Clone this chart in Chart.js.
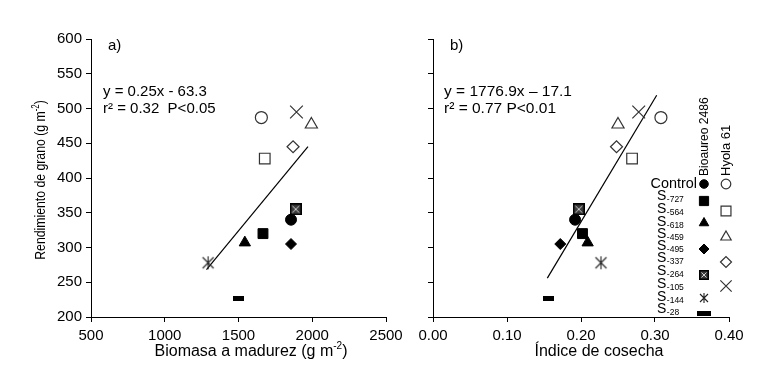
<!DOCTYPE html>
<html>
<head>
<meta charset="utf-8">
<script src="https://cdn.jsdelivr.net/npm/chart.js@4.4.1/dist/chart.umd.min.js"></script>
<style>
    body { margin: 0; background: #fff; }
    #wrap { position: relative; width: 784px; height: 392px; }
    #chartA { position: absolute; left: 0; top: 0; }
    #chartB { position: absolute; left: 410px; top: 0; }
</style>
</head>
<body>
<div id="wrap">
    <canvas id="chartA" width="420" height="392"></canvas>
    <canvas id="chartB" width="374" height="392"></canvas>
</div>
<script>
// Bioaureo 2486 (filled markers)
const bioTreatments = ['Control', 'S-727', 'S-618', 'S-495', 'S-264', 'S-144', 'S-28'];
const bioBiomass = [1856, 1666, 1543, 1856, 1888, 1294, 1502];
const bioHarvestIndex = [0.192, 0.202, 0.209, 0.172, 0.197, 0.227, 0.156];
const bioYield = [340, 320, 307, 305, 355, 278, 227];

// Hyola 61 (open markers)
const hyolaTreatments = ['Control', 'S-564', 'S-459', 'S-337', 'S-105'];
const hyolaBiomass = [1655, 1678, 1994, 1870, 1893];
const hyolaHarvestIndex = [0.308, 0.269, 0.250, 0.248, 0.278];
const hyolaYield = [487, 428, 477, 445, 495];

// regression lines (end points)
const fitA_x = [1283, 1971];
const fitA_y = [268, 445];
const fitB_x = [0.1545, 0.3023];
const fitB_y = [256, 519];

const yTicks = [200, 250, 300, 350, 400, 450, 500, 550, 600];
const xTicksA = [500, 1000, 1500, 2000, 2500];
const xTicksB = [0, 0.1, 0.2, 0.3, 0.4];

const legendRows = ['Control', 'S-727', 'S-564', 'S-618', 'S-459', 'S-495', 'S-337', 'S-264', 'S-105', 'S-144', 'S-28'];

const SANS = "'Liberation Sans', Arial, sans-serif";

// custom marker images
function makeMarker(w, h, draw) {
    const c = document.createElement('canvas');
    c.width = w; c.height = h;
    draw(c.getContext('2d'), w, h);
    return c;
}
function crossedSquareOf(s) {
    return makeMarker(s, s, (ctx, w, h) => {
        ctx.fillStyle = '#3a3a3a';
        ctx.fillRect(0, 0, w, h);
        ctx.strokeStyle = '#000';
        ctx.lineWidth = 1.5;
        ctx.strokeRect(0.75, 0.75, w - 1.5, h - 1.5);
        ctx.strokeStyle = '#ccc';
        ctx.lineWidth = 1;
        ctx.beginPath();
        ctx.moveTo(2.5, 2.5); ctx.lineTo(w - 2.5, h - 2.5);
        ctx.moveTo(w - 2.5, 2.5); ctx.lineTo(2.5, h - 2.5);
        ctx.stroke();
    });
}
function asteriskOf(s) {
    return makeMarker(s, s, (ctx, w, h) => {
        ctx.strokeStyle = '#222';
        ctx.lineWidth = 1.1;
        ctx.beginPath();
        ctx.moveTo(w / 2, 1); ctx.lineTo(w / 2, h - 1);
        ctx.moveTo(2, 2); ctx.lineTo(w - 2, h - 2);
        ctx.moveTo(w - 2, 2); ctx.lineTo(2, h - 2);
        ctx.stroke();
    });
}
function dashOf(w, h) {
    return makeMarker(w, h, (ctx) => {
        ctx.fillStyle = '#000';
        ctx.fillRect(0, 0, w, h);
    });
}

const bioStyles = [
    { pointStyle: 'circle', radius: 5.5 },
    { pointStyle: 'rect', radius: 7 },
    { pointStyle: 'triangle', radius: 6.5 },
    { pointStyle: 'rectRot', radius: 5.5 },
    { pointStyle: crossedSquareOf(12), radius: 6 },
    { pointStyle: asteriskOf(15), radius: 7 },
    { pointStyle: dashOf(11, 5), radius: 6 }
];
const bioLegendStyles = [
    { pointStyle: 'circle', radius: 4.3 },
    { pointStyle: 'rect', radius: 6.5 },
    { pointStyle: 'triangle', radius: 5.5 },
    { pointStyle: 'rectRot', radius: 5 },
    { pointStyle: crossedSquareOf(10), radius: 5 },
    { pointStyle: asteriskOf(12), radius: 6 },
    { pointStyle: dashOf(14, 5), radius: 6 }
];
const hyolaStyles = [
    { pointStyle: 'circle', radius: 6 },
    { pointStyle: 'rect', radius: 7.5 },
    { pointStyle: 'triangle', radius: 7 },
    { pointStyle: 'rectRot', radius: 6 },
    { pointStyle: 'crossRot', radius: 9 }
];
const hyolaLegendStyles = [
    { pointStyle: 'circle', radius: 4.8 },
    { pointStyle: 'rect', radius: 7 },
    { pointStyle: 'triangle', radius: 6 },
    { pointStyle: 'rectRot', radius: 5.5 },
    { pointStyle: 'crossRot', radius: 8 }
];

function buildDatasets(bioX, hyolaX, fitX, fitY) {
    const sets = [];
    bioTreatments.forEach((name, i) => {
        sets.push({
            label: 'Bioaureo 2486 ' + name,
            data: [{ x: bioX[i], y: bioYield[i] }],
            pointStyle: bioStyles[i].pointStyle,
            pointRadius: bioStyles[i].radius,
            backgroundColor: '#000',
            borderColor: '#000',
            borderWidth: 1
        });
    });
    hyolaTreatments.forEach((name, i) => {
        sets.push({
            label: 'Hyola 61 ' + name,
            data: [{ x: hyolaX[i], y: hyolaYield[i] }],
            pointStyle: hyolaStyles[i].pointStyle,
            pointRadius: hyolaStyles[i].radius,
            backgroundColor: '#fff',
            borderColor: '#333',
            borderWidth: 1.2
        });
    });
    sets.push({
        type: 'line',
        label: 'fit',
        data: fitX.map((x, i) => ({ x, y: fitY[i] })),
        borderColor: '#000',
        borderWidth: 1.2,
        pointRadius: 0,
        fill: false
    });
    return sets;
}

// text squeezed horizontally (the figure uses a narrow face)
function squeezeText(ctx, text, x, y, sx) {
    ctx.save();
    ctx.translate(x, y);
    ctx.scale(sx, 1);
    ctx.fillText(text, 0, 0);
    ctx.restore();
}

// draw "main" + superscript + "end" centred on cx
function drawWithSup(ctx, main, sup, end, cx, cy, size, sx) {
    ctx.font = size + 'px ' + SANS;
    const w1 = ctx.measureText(main).width * sx;
    const w3 = ctx.measureText(end).width * sx;
    ctx.font = Math.round(size * 0.62) + 'px ' + SANS;
    const w2 = sup ? ctx.measureText(sup).width * sx : 0;
    let x = cx - (w1 + w2 + w3) / 2;
    ctx.textAlign = 'left';
    ctx.font = size + 'px ' + SANS;
    squeezeText(ctx, main, x, cy, sx);
    x += w1;
    if (sup) {
        ctx.font = Math.round(size * 0.62) + 'px ' + SANS;
        squeezeText(ctx, sup, x, cy - size * 0.33, sx);
        x += w2;
        ctx.font = size + 'px ' + SANS;
        squeezeText(ctx, end, x, cy, sx);
    }
}

function drawLegend(chart, offsetX) {
    const ctx = chart.ctx;
    const rowY = [184, 197, 210, 223, 235, 247, 259, 272, 285, 298, 310];
    const markY = [184, 201, 211, 223, 237, 249, 262, 275, 286, 298, 313];
    const colFilled = 704 - offsetX;
    const colOpen = 726 - offsetX;
    ctx.textBaseline = 'middle';
    legendRows.forEach((name, i) => {
        const y = rowY[i];
        ctx.fillStyle = '#000';
        if (name === 'Control') {
            ctx.font = '15px ' + SANS;
            ctx.textAlign = 'right';
            squeezeText(ctx, name, 697 - offsetX, y, 0.96);
        } else {
            const sub = name.slice(1);
            const sx = 657 - offsetX;
            ctx.textAlign = 'left';
            ctx.font = '14px ' + SANS;
            ctx.fillText('S', sx, y - 1);
            const sw = ctx.measureText('S').width;
            ctx.font = '8.5px ' + SANS;
            ctx.fillText(sub, sx + sw + 0.5, y + 3);
        }
        const bi = bioTreatments.indexOf(name);
        if (bi >= 0) {
            ctx.save();
            ctx.fillStyle = '#000';
            ctx.strokeStyle = '#000';
            ctx.lineWidth = 1;
            Chart.helpers.drawPoint(ctx, {
                pointStyle: bioLegendStyles[bi].pointStyle,
                radius: bioLegendStyles[bi].radius,
                borderWidth: 1,
                rotation: 0
            }, colFilled, markY[i]);
            ctx.restore();
        }
        const hi = hyolaTreatments.indexOf(name);
        if (hi >= 0) {
            ctx.save();
            ctx.fillStyle = '#fff';
            ctx.strokeStyle = '#333';
            ctx.lineWidth = 1.2;
            Chart.helpers.drawPoint(ctx, {
                pointStyle: hyolaLegendStyles[hi].pointStyle,
                radius: hyolaLegendStyles[hi].radius,
                borderWidth: 1.2,
                rotation: 0
            }, colOpen, markY[i]);
            ctx.restore();
        }
    });
    // vertical series names
    ctx.fillStyle = '#000';
    ctx.font = '13px ' + SANS;
    ctx.textAlign = 'left';
    ctx.textBaseline = 'middle';
    [['Bioaureo 2486', colFilled, 0.93], ['Hyola 61', colOpen, 1]].forEach(([txt, cx, sx]) => {
        ctx.save();
        ctx.translate(cx, 176);
        ctx.rotate(-Math.PI / 2);
        ctx.scale(sx, 1);
        ctx.fillText(txt, 0, 0);
        ctx.restore();
    });
}

// draws free text: panel letter, equation, axis titles, legend
function textPlugin(opts) {
    return {
        id: 'panelText',
        afterDraw(chart) {
            const ctx = chart.ctx;
            ctx.save();
            ctx.fillStyle = '#000';
            ctx.textBaseline = 'middle';
            ctx.textAlign = 'left';
            ctx.font = '15px ' + SANS;
            ctx.fillText(opts.letter, opts.letterX, 46);
            ctx.font = opts.eqSize + 'px ' + SANS;
            ctx.fillText(opts.eq, opts.eqX, 91.5);
            ctx.fillText(opts.r2, opts.eqX, 109);
            drawWithSup(ctx, opts.xTitle, opts.xTitleSup, opts.xTitleEnd, opts.xTitleCx, 352, 16, 1);
            if (opts.yTitle) {
                ctx.save();
                ctx.translate(41, 180);
                ctx.rotate(-Math.PI / 2);
                drawWithSup(ctx, opts.yTitle, '-2', ')', 0, 0, 15.5, 0.79);
                ctx.restore();
            }
            if (opts.legend) drawLegend(chart, opts.offsetX);
            ctx.restore();
        }
    };
}

function axisStyle() {
    return {
        border: { color: '#000', width: 1 },
        grid: { display: true, drawOnChartArea: false, color: '#000', tickLength: 5 }
    };
}

function makeChart(id, cfg) {
    const x = axisStyle();
    const y = axisStyle();
    return new Chart(document.getElementById(id), {
        type: 'scatter',
        data: { datasets: buildDatasets(cfg.bioX, cfg.hyolaX, cfg.fitX, cfg.fitY) },
        options: {
            responsive: false,
            animation: false,
            layout: { padding: { top: 39, right: cfg.padRight, left: 0, bottom: 0 } },
            plugins: { legend: { display: false }, tooltip: { enabled: false } },
            scales: {
                x: Object.assign(x, {
                    type: 'linear',
                    min: cfg.xTicks[0],
                    max: cfg.xTicks[cfg.xTicks.length - 1],
                    afterBuildTicks: s => { s.ticks = cfg.xTicks.map(v => ({ value: v })); },
                    afterFit: s => { s.height = 75; },
                    ticks: {
                        color: '#000',
                        padding: 5,
                        maxRotation: 0,
                        font: { family: SANS, size: 15 },
                        callback: cfg.xFormat
                    }
                }),
                y: Object.assign(y, {
                    type: 'linear',
                    min: 200,
                    max: 600,
                    afterBuildTicks: s => { s.ticks = yTicks.map(v => ({ value: v })); },
                    afterFit: s => { s.width = cfg.yWidth; },
                    ticks: {
                        color: '#000',
                        padding: 4,
                        font: { family: SANS, size: 15 },
                        callback: cfg.yLabels ? (v => v) : (() => '')
                    }
                })
            }
        },
        plugins: [textPlugin(cfg.text)]
    });
}

makeChart('chartA', {
    bioX: bioBiomass, hyolaX: hyolaBiomass, fitX: fitA_x, fitY: fitA_y,
    xTicks: xTicksA, xFormat: v => v, yWidth: 91, padRight: 34, yLabels: true,
    text: {
        letter: 'a)', letterX: 108, eq: 'y = 0.25x - 63.3', eqX: 103, eqSize: 15,
        r2: 'r² = 0.32  P<0.05',
        xTitle: 'Biomasa a madurez (g m', xTitleSup: '-2', xTitleEnd: ')', xTitleCx: 251,
        yTitle: 'Rendimiento de grano (g m', legend: false, offsetX: 0
    }
});

makeChart('chartB', {
    bioX: bioHarvestIndex, hyolaX: hyolaHarvestIndex, fitX: fitB_x, fitY: fitB_y,
    xTicks: xTicksB, xFormat: v => Number(v).toFixed(2), yWidth: 23, padRight: 55, yLabels: false,
    text: {
        letter: 'b)', letterX: 450 - 410, eq: 'y = 1776.9x \u2013 17.1', eqX: 444 - 410, eqSize: 15.5,
        r2: 'r² = 0.77 P<0.01',
        xTitle: '\u00cdndice de cosecha', xTitleSup: '', xTitleEnd: '', xTitleCx: 599 - 410,
        yTitle: null, legend: true, offsetX: 410
    }
});
</script>
</body>
</html>
